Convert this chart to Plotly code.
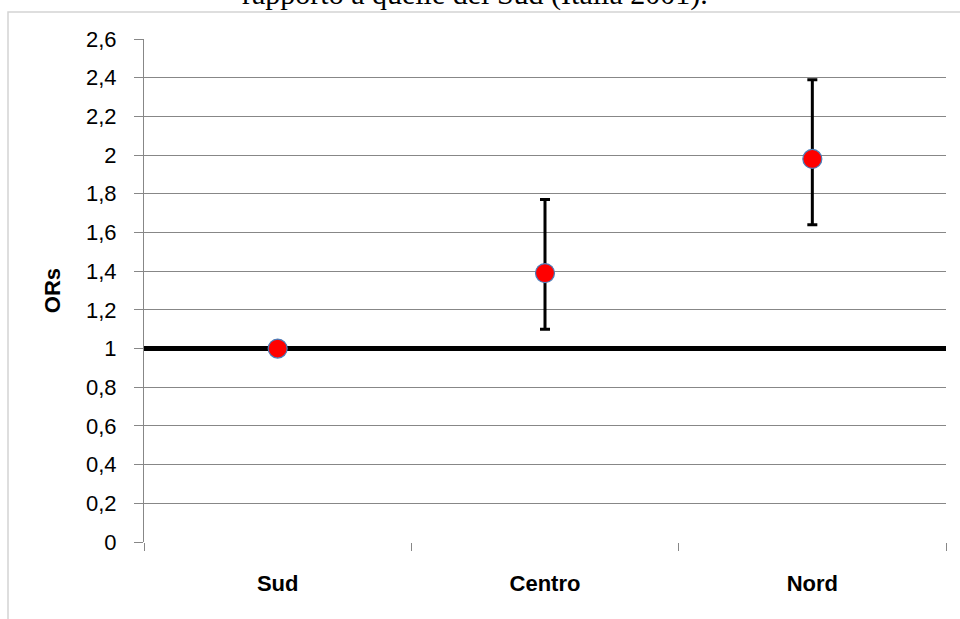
import plotly.graph_objects as go

# Odds ratios by macro-area, with 95% confidence limits
regions = ["Sud", "Centro", "Nord"]
odds_ratios = [1.0, 1.39, 1.98]
ci_upper = [1.0, 1.77, 2.39]
ci_lower = [1.0, 1.10, 1.64]
reference_or = 1.0

y_ticks = [0, 0.2, 0.4, 0.6, 0.8, 1, 1.2, 1.4, 1.6, 1.8, 2, 2.2, 2.4, 2.6]
y_tick_text = ["0", "0,2", "0,4", "0,6", "0,8", "1", "1,2", "1,4", "1,6", "1,8",
               "2", "2,2", "2,4", "2,6"]

title_text = "rapporto a quelle del Sud (Italia 2001)."

W, H = 960, 619
M_L, M_R, M_T, M_B = 144, 14, 39, 77
plot_w = W - M_L - M_R
plot_h = H - M_T - M_B


def px_x(p):
    return (p - M_L) / plot_w


def px_y(p):
    return (H - M_B - p) / plot_h


positions = list(range(len(regions)))
x_lo, x_hi = -0.5, len(regions) - 0.5
boundaries = [i - 0.5 for i in range(len(regions) + 1)]

err_plus = [u - o for u, o in zip(ci_upper, odds_ratios)]
err_minus = [o - l for o, l in zip(odds_ratios, ci_lower)]

fig = go.Figure()
# reference line OR = 1 across the whole plot, under the markers
fig.add_trace(go.Scatter(
    x=[x_lo, x_hi],
    y=[reference_or, reference_or],
    mode="lines",
    line=dict(color="black", width=5),
    hoverinfo="skip",
    showlegend=False,
    cliponaxis=False,
))
fig.add_trace(go.Scatter(
    x=positions,
    y=odds_ratios,
    mode="markers",
    marker=dict(size=19, color="#ff0000", line=dict(color="#4a7ebb", width=1.2)),
    error_y=dict(type="data", symmetric=False, array=err_plus, arrayminus=err_minus,
                 color="black", thickness=3, width=5),
    showlegend=False,
    cliponaxis=False,
))

grey = "#878787"
fig.update_layout(
    width=W, height=H,
    margin=dict(l=M_L, r=M_R, t=M_T, b=M_B, pad=0),
    paper_bgcolor="white",
    plot_bgcolor="white",
    font=dict(family="Liberation Sans, Arial, sans-serif", size=22, color="black"),
    xaxis=dict(
        range=[x_lo, x_hi],
        tickvals=positions,
        ticktext=regions,
        ticks="",
        ticklabelstandoff=26,
        minor=dict(tickvals=boundaries, ticks="outside", ticklen=8, tickcolor=grey,
                   showgrid=False),
        showgrid=False,
        showline=False,
        zeroline=False,
        tickfont=dict(size=22, family="Liberation Sans, Arial, sans-serif", weight="bold"),
    ),
    yaxis=dict(
        range=[0, 2.6],
        tickvals=y_ticks,
        ticktext=y_tick_text,
        ticks="outside",
        ticklen=9,
        tickcolor=grey,
        ticklabelstandoff=13,
        tickfont=dict(size=22),
        showgrid=True,
        gridcolor=grey,
        gridwidth=1,
        showline=True,
        linecolor=grey,
        linewidth=1,
        zeroline=False,
        title=dict(text="<b>ORs</b>", font=dict(size=22), standoff=19),
    ),
    shapes=[
        # chart frame
        dict(type="rect", xref="paper", yref="paper",
             x0=px_x(8), x1=px_x(975), y0=px_y(640), y1=px_y(12),
             line=dict(color="#d4d4d4", width=1.5), fillcolor="rgba(0,0,0,0)", layer="below"),
    ],
    annotations=[
        dict(text=title_text, xref="paper", yref="paper", x=px_x(475), y=px_y(-6),
             xanchor="center", yanchor="middle", showarrow=False,
             font=dict(family="Liberation Serif, Times New Roman, serif", size=30, color="black")),
    ],
)

fig.write_html("out.html")
